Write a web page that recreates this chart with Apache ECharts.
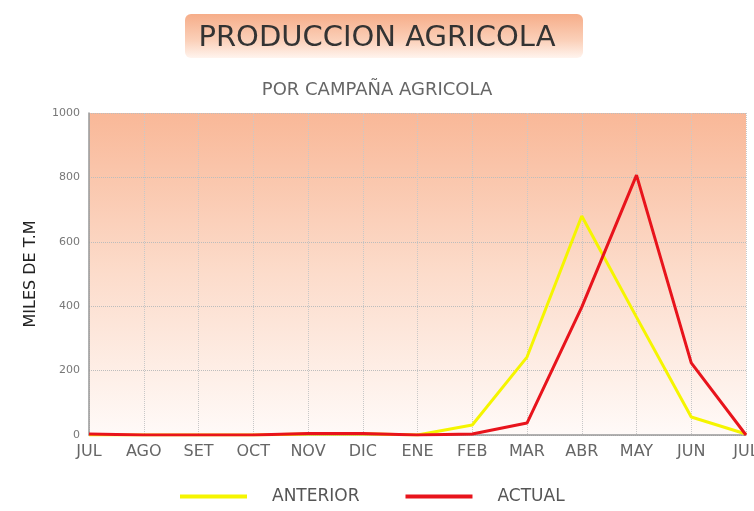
<!DOCTYPE html>
<html>
<head>
<meta charset="utf-8">
<script src="https://cdn.jsdelivr.net/npm/echarts@6/dist/echarts.min.js"></script>
<style>
  html, body { margin: 0; padding: 0; background: #fff; }
  #main { width: 754px; height: 511px; }
</style>
</head>
<body>
<div id="main"></div>
<script>
  var months = ['JUL', 'AGO', 'SET', 'OCT', 'NOV', 'DIC', 'ENE', 'FEB', 'MAR', 'ABR', 'MAY', 'JUN', 'JUL'];
  var anterior = [0, 0, 0, 0, 3, 4, 0, 31, 242, 680, 366, 56, 3];
  var actual = [3, 0, 0, 0, 5, 5, 0, 3, 37, 397, 807, 224, 0];

  var chart = echarts.init(document.getElementById('main'), null, { renderer: 'canvas' });
  var font = '"DejaVu Sans", sans-serif';

  var option = {
    animation: false,
    backgroundColor: '#fff',
    graphic: [
      {
        type: 'rect',
        left: 185, top: 14,
        shape: { width: 398, height: 44, r: 6 },
        style: {
          fill: new echarts.graphic.LinearGradient(0, 0, 0, 1, [
            { offset: 0, color: '#f6ad89' },
            { offset: 0.6, color: '#fbd0b9' },
            { offset: 1, color: '#fff4ee' }
          ])
        },
        z: 0
      }
    ],
    title: [
      {
        text: 'PRODUCCION AGRICOLA',
        left: 'center', top: 19,
        textStyle: { fontFamily: font, fontSize: 29, fontWeight: 'normal', color: '#333' },
        z: 5
      },
      {
        text: 'POR CAMPAÑA AGRICOLA',
        left: 'center', top: 76,
        textStyle: { fontFamily: font, fontSize: 18, fontWeight: 'normal', color: '#666' }
      }
    ],
    legend: {
      bottom: 1,
      left: 175,
      itemWidth: 67,
      itemHeight: 4,
      itemGap: 46,
      icon: 'rect',
      textStyle: { fontFamily: font, fontSize: 17, color: '#555', padding: [0, 0, 0, 20] },
      data: ['ANTERIOR', 'ACTUAL']
    },
    grid: {
      left: 89, right: 8, top: 113, bottom: 76,
      outerBoundsMode: 'none',
      show: true,
      borderWidth: 0,
      backgroundColor: new echarts.graphic.LinearGradient(0, 0, 0, 1, [
        { offset: 0, color: '#f9b898' },
        { offset: 0.5, color: '#fcdccb' },
        { offset: 1, color: '#fffaf8' }
      ])
    },
    xAxis: {
      type: 'category',
      boundaryGap: false,
      data: months,
      axisLine: { lineStyle: { color: '#999', width: 1.5 } },
      axisTick: { show: false },
      axisLabel: { fontFamily: font, fontSize: 16, color: '#666', margin: 9, interval: 0 },
      splitLine: { show: true, lineStyle: { color: '#c8c8c8', type: 'dotted' } }
    },
    yAxis: {
      type: 'value',
      min: 0, max: 1000, interval: 200,
      name: 'MILES DE T.M',
      nameLocation: 'middle',
      nameGap: 50,
      nameRotate: 90,
      nameTextStyle: { fontFamily: font, fontSize: 16, color: '#222' },
      axisLine: { show: true, lineStyle: { color: '#999', width: 1.5 } },
      axisTick: { show: false },
      axisLabel: {
        fontFamily: font, fontSize: 11, color: '#777', margin: 9,
        formatter: function (v) { return String(v); }
      },
      splitLine: { show: true, lineStyle: { color: '#bdbdbd', type: 'dotted' } }
    },
    series: [
      {
        name: 'ANTERIOR',
        type: 'line',
        data: anterior,
        symbol: 'none',
        color: '#f5f500',
        lineStyle: { width: 3, color: '#f5f500' }
      },
      {
        name: 'ACTUAL',
        type: 'line',
        data: actual,
        symbol: 'none',
        color: '#e8141c',
        lineStyle: { width: 3, color: '#e8141c' }
      }
    ]
  };

  chart.setOption(option);
</script>
</body>
</html>
